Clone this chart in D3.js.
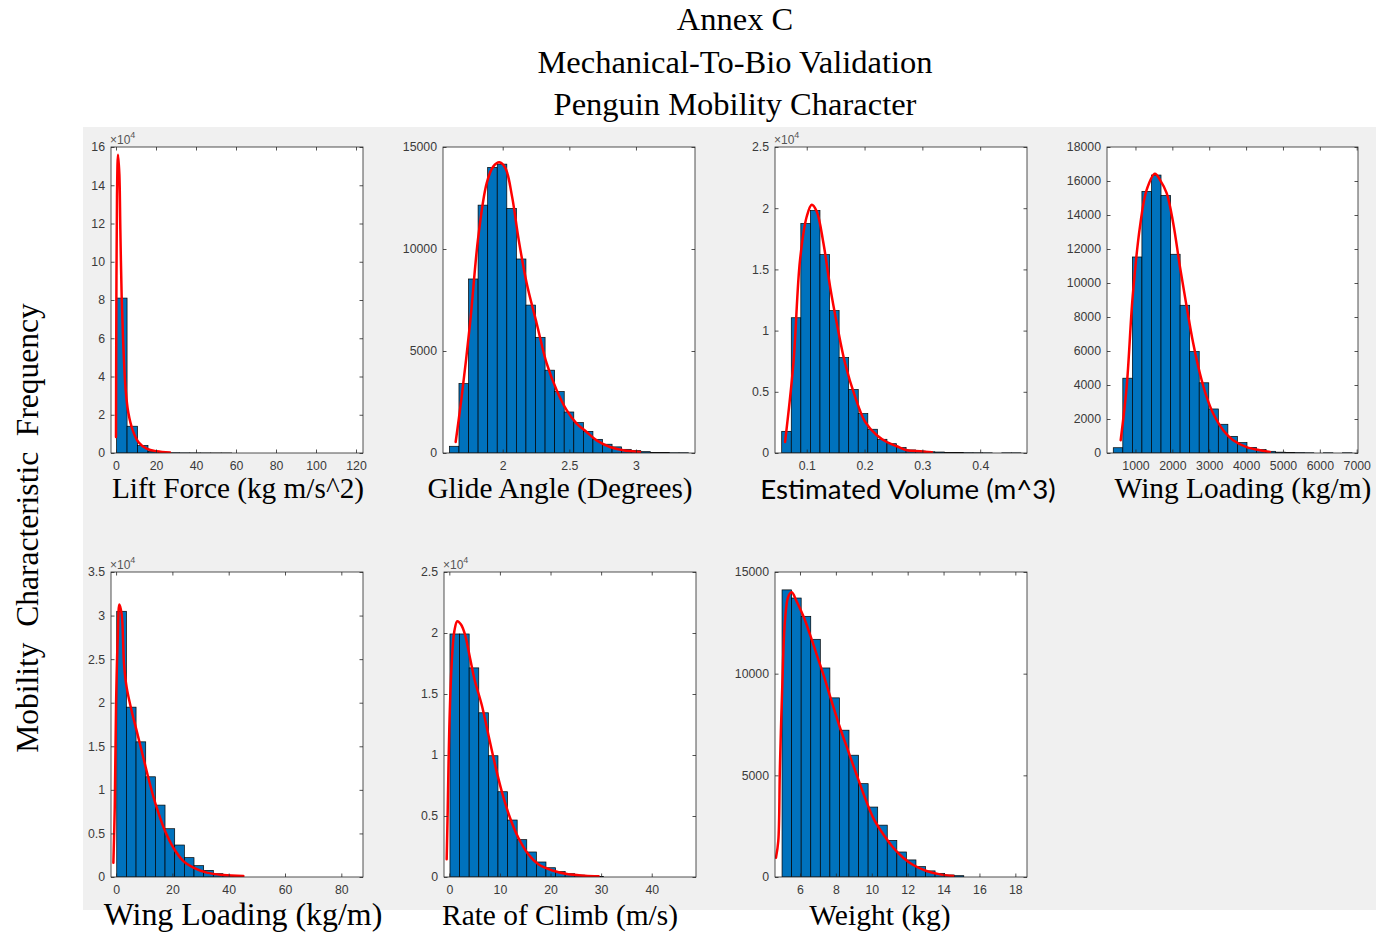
<!DOCTYPE html>
<html>
<head>
<meta charset="utf-8">
<script src="https://cdn.jsdelivr.net/npm/d3@7/dist/d3.min.js"></script>
<style>
  html, body { margin: 0; padding: 0; background: #ffffff; }
  svg { display: block; }
</style>
</head>
<body>
<svg id="fig" width="1376" height="935"></svg>
<script>
// ---- Histogram counts (uniform bins: start, width, counts) ----
const liftBinStart = 0.3, liftBinWidth = 5.23;
const liftCounts = [81000, 14000, 3900, 900, 300, 120, 60, 40, 20, 10, 10];
const liftCurveX = [0, 0.17, 0.5, 1.0, 1.67, 2.17, 2.83, 3.67, 4.83, 6.17, 8.33, 11.17, 15.3, 20.3, 27];
const liftCurveY = [8400, 75000, 134000, 156000, 146000, 117000, 82000, 56000, 33000, 21000, 12000, 5800, 2300, 900, 300];

const glideBinStart = 1.6, glideBinWidth = 0.0718;
const glideCounts = [330, 3400, 8530, 12150, 14000, 14160, 11990, 9510, 7250, 5670, 4060, 3010, 2010, 1490, 1060, 670, 430, 300, 180, 115, 65, 30, 20, 10, 10];
const glideCurveX = [1.647, 1.692, 1.755, 1.817, 1.88, 1.93, 1.975, 2.02, 2.07, 2.12, 2.18, 2.255, 2.33, 2.405, 2.48, 2.555, 2.63, 2.705, 2.805, 2.905, 3.03];
const glideCurveY = [540, 2750, 6350, 10610, 13230, 14050, 14250, 13970, 12580, 10450, 8320, 6350, 4390, 3080, 2100, 1440, 1030, 620, 295, 130, 50];

const volumeBinStart = 0.0567, volumeBinWidth = 0.01655;
const volumeCounts = [1770, 11050, 18750, 19810, 16210, 11630, 7800, 5190, 3220, 1940, 1120, 760, 440, 250, 160, 100, 80, 50, 30, 20, 15, 10, 0, 10, 10];
const volumeCurveX = [0.0625, 0.0769, 0.0884, 0.1, 0.1087, 0.1173, 0.1289, 0.1404, 0.152, 0.1664, 0.1837, 0.201, 0.2212, 0.2385, 0.2558, 0.2731, 0.2962, 0.3164];
const volumeCurveY = [900, 7310, 15770, 19320, 20280, 19730, 17140, 13590, 10590, 7310, 4590, 2540, 1450, 900, 550, 220, 140, 55];

const wingBinStart = 398, wingBinWidth = 259;
const wingCounts = [310, 4400, 11530, 15390, 16350, 15150, 11690, 8690, 5970, 4130, 2590, 1690, 980, 610, 330, 200, 100, 50, 30, 20, 10, 0, 10, 0, 10];
const wingCurveX = [599, 761, 924, 1122, 1303, 1528, 1664, 1846, 2024, 2206, 2388, 2566, 2748, 2930, 3108, 3379, 3650, 4014, 4374, 4645];
const wingCurveY = [750, 3890, 9200, 13320, 15480, 16430, 16070, 15290, 13520, 10960, 8610, 6450, 4680, 3300, 2320, 1340, 750, 350, 160, 60];

const wing2BinStart = 0.24, wing2BinWidth = 3.43;
const wing2Counts = [30490, 19490, 15510, 11500, 8250, 5540, 3670, 2220, 1300, 760, 380, 190, 80];
const wing2CurveX = [-0.95, -0.47, 0, 0.59, 1.18, 2.01, 2.84, 3.79, 5.56, 7.34, 9.7, 12.07, 14.44, 17.4, 20.35, 23.9, 27.45, 32.2, 38.1, 45.2];
const wing2CurveY = [1640, 7950, 19790, 27440, 31260, 30110, 24380, 21700, 19030, 16740, 13680, 10620, 7950, 5270, 3360, 1830, 1070, 500, 230, 110];

const climbBinStart = 0.13, climbBinWidth = 1.897;
const climbCounts = [19920, 19920, 17140, 13460, 9940, 6990, 4670, 3060, 2050, 1230, 760, 440, 270, 160, 90, 50];
const climbCurveX = [-0.52, -0.32, 0, 0.46, 0.99, 1.58, 2.31, 3.1, 4.09, 5.07, 6.39, 7.71, 9.03, 10.35, 11.99, 13.64, 15.62, 17.6, 20.23, 23.5, 26.8, 29.5];
const climbCurveY = [1450, 5400, 12230, 17410, 20140, 20960, 20690, 19870, 17960, 16050, 14140, 11680, 9220, 7040, 4860, 3220, 1860, 1040, 550, 220, 110, 55];

const weightBinStart = 5.0, weightBinWidth = 0.533;
const weightCounts = [14120, 13720, 12820, 11690, 10280, 8810, 7220, 5990, 4590, 3440, 2550, 1800, 1230, 840, 510, 300, 180, 100, 65];
const weightCurveX = [4.66, 4.79, 4.88, 5.01, 5.16, 5.35, 5.54, 5.81, 6.19, 6.56, 6.93, 7.3, 7.76, 8.23, 8.69, 9.15, 9.62, 10.08, 10.64, 11.2, 11.75, 12.31, 13.05, 13.8, 14.54];
const weightCurveY = [950, 1770, 5370, 9300, 12580, 13800, 14000, 13560, 12820, 11920, 10940, 9960, 8650, 7340, 6190, 5040, 3900, 2910, 2100, 1440, 950, 590, 295, 130, 50];

// ---- Axis limits and ticks ----
const liftXLim = [-2.5, 123.5], liftYLim = [0, 160000];
const liftXTicks = [0, 20, 40, 60, 80, 100, 120];
const liftYTicks = [0, 20000, 40000, 60000, 80000, 100000, 120000, 140000, 160000];

const glideXLim = [1.552, 3.443], glideYLim = [0, 15000];
const glideXTicks = [2, 2.5, 3];
const glideYTicks = [0, 5000, 10000, 15000];

const volumeXLim = [0.0451, 0.481], volumeYLim = [0, 25000];
const volumeXTicks = [0.1, 0.2, 0.3, 0.4];
const volumeYTicks = [0, 5000, 10000, 15000, 20000, 25000];

const wingXLim = [228, 7035], wingYLim = [0, 18000];
const wingXTicks = [1000, 2000, 3000, 4000, 5000, 6000, 7000];
const wingYTicks = [0, 2000, 4000, 6000, 8000, 10000, 12000, 14000, 16000, 18000];

const wing2XLim = [-1.8, 87.7], wing2YLim = [0, 35000];
const wing2XTicks = [0, 20, 40, 60, 80];
const wing2YTicks = [0, 5000, 10000, 15000, 20000, 25000, 30000, 35000];

const climbXLim = [-1.05, 48.75], climbYLim = [0, 25000];
const climbXTicks = [0, 10, 20, 30, 40];
const climbYTicks = [0, 5000, 10000, 15000, 20000, 25000];

const weightXLim = [4.607, 18.65], weightYLim = [0, 15000];
const weightXTicks = [6, 8, 10, 12, 14, 16, 18];
const weightYTicks = [0, 5000, 10000, 15000];

// ---- Text ----
const titleLines = ["Annex C", "Mechanical-To-Bio Validation", "Penguin Mobility Character"];
const yAxisTitle = "Mobility  Characteristic  Frequency";
const xTitles = ["Lift Force (kg m/s^2)", "Glide Angle (Degrees)", "Estimated Volume (m^3)", "Wing Loading (kg/m)",
                 "Wing Loading (kg/m)", "Rate of Climb (m/s)", "Weight (kg)"];

// ---- Panel table built from the arrays above ----
const panels = [
  { start: liftBinStart, width: liftBinWidth, counts: liftCounts, cx: liftCurveX, cy: liftCurveY,
    xLim: liftXLim, yLim: liftYLim, xTicks: liftXTicks, yTicks: liftYTicks, exp: true,
    box: [111, 147, 252, 306], title: xTitles[0], tx: 238, ty: 498, tsize: 29.3, sans: false },
  { start: glideBinStart, width: glideBinWidth, counts: glideCounts, cx: glideCurveX, cy: glideCurveY,
    xLim: glideXLim, yLim: glideYLim, xTicks: glideXTicks, yTicks: glideYTicks, exp: false,
    box: [443, 147, 252, 306], title: xTitles[1], tx: 560, ty: 498, tsize: 29.3, sans: false },
  { start: volumeBinStart, width: volumeBinWidth, counts: volumeCounts, cx: volumeCurveX, cy: volumeCurveY,
    xLim: volumeXLim, yLim: volumeYLim, xTicks: volumeXTicks, yTicks: volumeYTicks, exp: true,
    box: [775, 147, 252, 306], title: xTitles[2], tx: 908, ty: 499, tsize: 27.7, sans: true },
  { start: wingBinStart, width: wingBinWidth, counts: wingCounts, cx: wingCurveX, cy: wingCurveY,
    xLim: wingXLim, yLim: wingYLim, xTicks: wingXTicks, yTicks: wingYTicks, exp: false,
    box: [1107, 147, 251, 306], title: xTitles[3], tx: 1243, ty: 498, tsize: 29.4, sans: false },
  { start: wing2BinStart, width: wing2BinWidth, counts: wing2Counts, cx: wing2CurveX, cy: wing2CurveY,
    xLim: wing2XLim, yLim: wing2YLim, xTicks: wing2XTicks, yTicks: wing2YTicks, exp: true,
    box: [111, 572, 252, 305], title: xTitles[4], tx: 243, ty: 925, tsize: 31.9, sans: false },
  { start: climbBinStart, width: climbBinWidth, counts: climbCounts, cx: climbCurveX, cy: climbCurveY,
    xLim: climbXLim, yLim: climbYLim, xTicks: climbXTicks, yTicks: climbYTicks, exp: true,
    box: [444, 572, 252, 305], title: xTitles[5], tx: 560, ty: 925, tsize: 29.4, sans: false },
  { start: weightBinStart, width: weightBinWidth, counts: weightCounts, cx: weightCurveX, cy: weightCurveY,
    xLim: weightXLim, yLim: weightYLim, xTicks: weightXTicks, yTicks: weightYTicks, exp: false,
    box: [775, 572, 252, 305], title: xTitles[6], tx: 880, ty: 925, tsize: 29.6, sans: false }
];

const serif = "'Liberation Serif', 'Times New Roman', serif";
const sans = "'Liberation Sans', Arial, Helvetica, sans-serif";
const axisColor = "#262626";
const tickTextColor = "#3a3a3a";
const barColor = "#0072BD";

const svg = d3.select("#fig");

// Figure background (grey canvas behind the axes)
svg.append("rect").attr("x", 83).attr("y", 127).attr("width", 1293).attr("height", 783).attr("fill", "#f0f0f0");

// Titles
svg.append("g").selectAll("text").data(titleLines).join("text")
  .attr("x", 735).attr("y", (d, i) => 30 + i * 42.5)
  .attr("text-anchor", "middle")
  .style("font-family", serif).style("font-size", "32.5px").attr("fill", "#000")
  .text(d => d);

svg.append("text")
  .attr("transform", "translate(38,528) rotate(-90)")
  .attr("text-anchor", "middle")
  .style("font-family", serif).style("font-size", "31.5px").style("white-space", "pre")
  .attr("xml:space", "preserve")
  .attr("fill", "#000")
  .text(yAxisTitle);

panels.forEach((p, idx) => {
  const [bx, by, bw, bh] = p.box;
  const x = d3.scaleLinear().domain(p.xLim).range([bx, bx + bw]);
  const y = d3.scaleLinear().domain(p.yLim).range([by + bh, by]);
  const g = svg.append("g");

  const clipId = "clip" + idx;
  svg.append("clipPath").attr("id", clipId)
    .append("rect").attr("x", bx).attr("y", by).attr("width", bw).attr("height", bh);

  g.append("rect").attr("x", bx).attr("y", by).attr("width", bw).attr("height", bh).attr("fill", "#ffffff");

  // Histogram bars
  const bins = p.counts.map((c, i) => ({ x0: p.start + i * p.width, x1: p.start + (i + 1) * p.width, c }));
  g.append("g").attr("clip-path", `url(#${clipId})`)
    .selectAll("rect").data(bins.filter(b => b.c > 0)).join("rect")
    .attr("x", d => x(d.x0))
    .attr("width", d => x(d.x1) - x(d.x0))
    .attr("y", d => y(d.c))
    .attr("height", d => y(0) - y(d.c))
    .attr("fill", barColor)
    .attr("stroke", "#000").attr("stroke-width", 0.7);

  // Fitted density curve
  const pts = p.cx.map((v, i) => [v, p.cy[i]]);
  const line = d3.line().x(d => x(d[0])).y(d => y(d[1])).curve(d3.curveCatmullRom.alpha(0.5));
  g.append("path").attr("clip-path", `url(#${clipId})`)
    .datum(pts).attr("d", line)
    .attr("fill", "none").attr("stroke", "#ff0000").attr("stroke-width", 2.5)
    .attr("stroke-linejoin", "round").attr("stroke-linecap", "round");

  // Axes (ticks inward, mirrored on the opposite side)
  const tickLen = 3.5;
  const fmtY = p.exp ? (v => d3.format("~g")(v / 10000)) : (v => String(v));
  const fmtX = v => String(v);

  const xb = d3.axisBottom(x).tickValues(p.xTicks).tickSize(-tickLen).tickPadding(8).tickFormat(fmtX);
  const xt = d3.axisTop(x).tickValues(p.xTicks).tickSize(-tickLen).tickFormat("");
  const yl = d3.axisLeft(y).tickValues(p.yTicks).tickSize(-tickLen).tickPadding(6).tickFormat(fmtY);
  const yr = d3.axisRight(y).tickValues(p.yTicks).tickSize(-tickLen).tickFormat("");

  const ax = [
    g.append("g").attr("transform", `translate(0,${by + bh})`).call(xb),
    g.append("g").attr("transform", `translate(0,${by})`).call(xt),
    g.append("g").attr("transform", `translate(${bx},0)`).call(yl),
    g.append("g").attr("transform", `translate(${bx + bw},0)`).call(yr)
  ];
  ax.forEach(a => {
    a.select(".domain").remove();
    a.selectAll(".tick line").attr("stroke", axisColor).attr("stroke-width", 0.8);
    a.selectAll(".tick text").attr("fill", tickTextColor)
      .style("font-family", sans).style("font-size", "12.3px");
  });

  g.append("rect").attr("x", bx).attr("y", by).attr("width", bw).attr("height", bh)
    .attr("fill", "none").attr("stroke", axisColor).attr("stroke-width", 0.8);

  // Exponent marker above the y axis
  if (p.exp) {
    const t = g.append("text").attr("x", bx - 1).attr("y", by - 3)
      .attr("fill", "#555").style("font-family", sans).style("font-size", "12px");
    t.append("tspan").text("\u00d710");
    t.append("tspan").attr("dy", -6).style("font-size", "9px").text("4");
  }

  // Axis title
  g.append("text").attr("x", p.tx).attr("y", p.ty).attr("text-anchor", "middle")
    .style("font-family", p.sans ? "Lato, 'Open Sans', sans-serif" : serif)
    .style("font-size", p.tsize + "px").attr("fill", "#000")
    .text(p.title);
});
</script>
</body>
</html>
